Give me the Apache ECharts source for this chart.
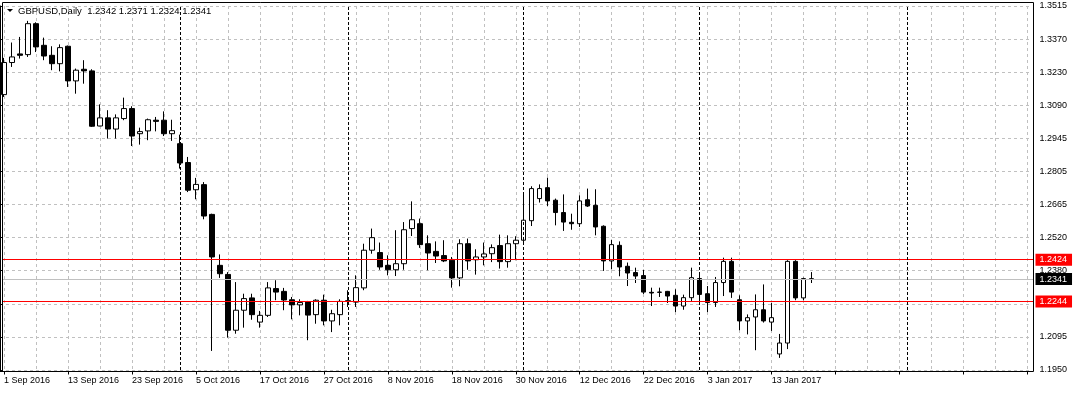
<!DOCTYPE html>
<html>
<head>
<meta charset="utf-8">
<script src="https://cdn.jsdelivr.net/npm/echarts@6/dist/echarts.min.js"></script>
<style>
html,body{margin:0;padding:0;background:#fff;}
#chart{width:1074px;height:393px;}
</style>
</head>
<body>
<div id="chart"></div>
<script>
// ---- data ----
const dates = [
 '1 Sep 2016','2 Sep 2016','5 Sep 2016','6 Sep 2016','7 Sep 2016','8 Sep 2016','9 Sep 2016','12 Sep 2016','13 Sep 2016','14 Sep 2016','15 Sep 2016','16 Sep 2016','19 Sep 2016','20 Sep 2016','21 Sep 2016','22 Sep 2016','23 Sep 2016','26 Sep 2016','27 Sep 2016','28 Sep 2016','29 Sep 2016','30 Sep 2016',
 '3 Oct 2016','4 Oct 2016','5 Oct 2016','6 Oct 2016','7 Oct 2016','10 Oct 2016','11 Oct 2016','12 Oct 2016','13 Oct 2016','14 Oct 2016','17 Oct 2016','18 Oct 2016','19 Oct 2016','20 Oct 2016','21 Oct 2016','24 Oct 2016','25 Oct 2016','26 Oct 2016','27 Oct 2016','28 Oct 2016','31 Oct 2016',
 '1 Nov 2016','2 Nov 2016','3 Nov 2016','4 Nov 2016','7 Nov 2016','8 Nov 2016','9 Nov 2016','10 Nov 2016','11 Nov 2016','14 Nov 2016','15 Nov 2016','16 Nov 2016','17 Nov 2016','18 Nov 2016','21 Nov 2016','22 Nov 2016','23 Nov 2016','24 Nov 2016','25 Nov 2016','28 Nov 2016','29 Nov 2016','30 Nov 2016',
 '1 Dec 2016','2 Dec 2016','5 Dec 2016','6 Dec 2016','7 Dec 2016','8 Dec 2016','9 Dec 2016','12 Dec 2016','13 Dec 2016','14 Dec 2016','15 Dec 2016','16 Dec 2016','19 Dec 2016','20 Dec 2016','21 Dec 2016','22 Dec 2016','23 Dec 2016','26 Dec 2016','27 Dec 2016','28 Dec 2016','29 Dec 2016','30 Dec 2016',
 '2 Jan 2017','3 Jan 2017','4 Jan 2017','5 Jan 2017','6 Jan 2017','9 Jan 2017','10 Jan 2017','11 Jan 2017','12 Jan 2017','13 Jan 2017','16 Jan 2017','17 Jan 2017','18 Jan 2017','19 Jan 2017','20 Jan 2017'
];
const open = [
 1.3134,1.3272,1.3309,1.3306,1.3439,1.3346,1.3303,1.3267,1.3342,1.3193,1.3243,1.3236,1.2999,1.3034,1.2986,1.3031,1.3074,1.2966,1.2978,1.3024,1.3024,1.2966,
 1.2923,1.2842,1.2725,1.2747,1.2619,1.2400,1.2361,1.2121,1.2207,1.2260,1.2156,1.2185,1.2300,1.2288,1.2252,1.2230,1.2242,1.2188,1.2250,1.2161,1.2188,
 1.2248,1.2242,1.2303,1.2465,1.2455,1.2400,1.2381,1.2407,1.2558,1.2579,1.2493,1.2460,1.2442,1.2422,1.2346,1.2493,1.2424,1.2436,1.2450,1.2485,1.2416,1.2493,
 1.2508,1.2592,1.2687,1.2734,1.2680,1.2627,1.2585,1.2579,1.2682,1.2658,1.2568,1.2419,1.2486,1.2396,1.2369,1.2356,1.2284,1.2285,1.2288,1.2271,1.2225,1.2261,
 1.2343,1.2278,1.2240,1.2326,1.2417,1.2252,1.2161,1.2178,1.2209,1.2156,1.2019,1.2066,1.2417,1.2260,1.2342
];
const high = [
 1.3292,1.3358,1.3382,1.3451,1.3445,1.3379,1.3342,1.3350,1.3345,1.3246,1.3282,1.3243,1.3092,1.3067,1.3049,1.3121,1.3084,1.2992,1.3031,1.3038,1.3062,1.3026,
 1.2962,1.2866,1.2776,1.2758,1.2622,1.2447,1.2371,1.2328,1.2278,1.2278,1.2204,1.2328,1.2336,1.2303,1.2264,1.2254,1.2247,1.2254,1.2274,1.2209,1.2254,
 1.2293,1.2357,1.2493,1.2558,1.2498,1.2443,1.2551,1.2586,1.2675,1.2601,1.2529,1.2503,1.2508,1.2436,1.2512,1.2515,1.2469,1.2498,1.2490,1.2532,1.2529,1.2525,
 1.2705,1.2740,1.2748,1.2777,1.2687,1.2705,1.2622,1.2701,1.2730,1.2727,1.2572,1.2510,1.2503,1.2412,1.2390,1.2381,1.2304,1.2304,1.2290,1.2297,1.2274,1.2390,
 1.2369,1.2311,1.2350,1.2433,1.2433,1.2271,1.2189,1.2275,1.2318,1.2238,1.2105,1.2422,1.2422,1.2347,1.2371
];
const low = [
 1.3124,1.3253,1.3289,1.3296,1.3317,1.3282,1.3239,1.3234,1.3167,1.3138,1.3181,1.2995,1.2998,1.2945,1.2945,1.3024,1.2913,1.2919,1.2938,1.2976,1.2956,1.2935,
 1.2816,1.2715,1.2684,1.2598,1.2032,1.2346,1.2089,1.2106,1.2132,1.2166,1.2132,1.2178,1.2250,1.2207,1.2168,1.2185,1.2078,1.2149,1.2142,1.2113,1.2142,
 1.2221,1.2221,1.2293,1.2450,1.2381,1.2357,1.2354,1.2381,1.2526,1.2475,1.2379,1.2410,1.2414,1.2304,1.2310,1.2381,1.2360,1.2400,1.2414,1.2386,1.2390,1.2422,
 1.2500,1.2569,1.2670,1.2655,1.2572,1.2548,1.2553,1.2565,1.2651,1.2529,1.2376,1.2383,1.2353,1.2311,1.2324,1.2277,1.2225,1.2264,1.2238,1.2199,1.2209,1.2247,
 1.2235,1.2199,1.2221,1.2268,1.2260,1.2121,1.2103,1.2035,1.2154,1.2118,1.2002,1.2040,1.2250,1.2250,1.2324
];
const close = [
 1.3272,1.3296,1.3303,1.3439,1.3339,1.3300,1.3267,1.3336,1.3193,1.3239,1.3236,1.2998,1.3034,1.2986,1.3034,1.3074,1.2956,1.2975,1.3026,1.3019,1.2966,1.2979,
 1.2840,1.2723,1.2748,1.2612,1.2436,1.2364,1.2121,1.2207,1.2257,1.2188,1.2185,1.2303,1.2285,1.2251,1.2230,1.2240,1.2186,1.2250,1.2161,1.2192,1.2245,
 1.2245,1.2304,1.2465,1.2519,1.2393,1.2381,1.2407,1.2553,1.2596,1.2489,1.2453,1.2440,1.2419,1.2346,1.2493,1.2419,1.2436,1.2449,1.2476,1.2416,1.2493,1.2508,
 1.2594,1.2730,1.2730,1.2677,1.2627,1.2586,1.2579,1.2677,1.2655,1.2565,1.2419,1.2489,1.2393,1.2367,1.2354,1.2285,1.2281,1.2284,1.2268,1.2225,1.2261,1.2347,
 1.2275,1.2240,1.2326,1.2417,1.2285,1.2161,1.2175,1.2209,1.2161,1.2175,1.2066,1.2417,1.2260,1.2343,1.2341
];
const yTickLabels = ['1.1950','1.2095','1.2235','1.2380','1.2520','1.2665','1.2805','1.2945','1.3090','1.3230','1.3370','1.3515'];
const yMin = 1.1950, yMax = 1.3515;
const levelLines = [1.2424, 1.2244];
const separatorIdx = [22, 43, 65, 87, 113];
const futureSlots = 27;
const symbolName = 'GBPUSD,Daily';

// ---- build ----
const cats = dates.concat(Array.from({length: futureSlots}, (_, k) => 'future-' + k));
const ohlc = dates.map((d, i) => [open[i], close[i], low[i], high[i]]);
const last = dates.length - 1;
const step = (yMax - yMin) / (yTickLabels.length - 1);
const FONT = 'Liberation Sans';

const levels = [
  {value: close[last], line: '#c0c0c0', box: '#000000'},
  {value: levelLines[0], line: '#ff0000', box: '#ff0000'},
  {value: levelLines[1], line: '#ff0000', box: '#ff0000'}
];

function levelSeries(lv) {
  return {
    type: 'line', xAxisIndex: 1, yAxisIndex: 0, z: 5, silent: true,
    symbol: 'none', animation: false,
    data: [[0, lv.value], [1, lv.value]],
    lineStyle: {color: lv.line, width: 1, opacity: 0},
    endLabel: {show: true, distance: 4, formatter: lv.value.toFixed(4), color: '#fff',
      backgroundColor: lv.box, padding: [2, 5, 1, 4], fontFamily: FONT, fontSize: 9}
  };
}

const sepData = separatorIdx.map(ix => ({
  xAxis: ix,
  lineStyle: {color: '#000', width: 1, type: [3, 2]},
  label: {show: false}
}));

const baseGraphic = [
  {id: 'frame', type: 'rect', shape: {x: 2.5, y: 2.5, width: 1031, height: 369}, style: {fill: 'none', stroke: '#000', lineWidth: 1}, z: 100, silent: true},
  {id: 'tri', type: 'polygon', shape: {points: [[7, 9], [13, 9], [10, 12]]}, style: {fill: '#000'}, z: 100},
  {id: 'hdr', type: 'text', x: 18, y: 6, z: 100, style: {
    text: symbolName + '  ' + open[last].toFixed(4) + ' ' + high[last].toFixed(4) + ' ' + low[last].toFixed(4) + ' ' + close[last].toFixed(4),
    fill: '#000', font: '9.5px "Liberation Sans"'}}
];

const chart = echarts.init(document.getElementById('chart'), null, {renderer: 'canvas'});
chart.setOption({
  animation: false,
  backgroundColor: '#fff',
  grid: {left: -0.5, right: 42.5, top: 6, bottom: 23},
  xAxis: [{
    type: 'category', data: cats, boundaryGap: true, offset: 1.5,
    axisLine: {show: true, lineStyle: {color: '#000', width: 1}},
    axisTick: {show: true, interval: 7, alignWithLabel: true, length: 3, lineStyle: {color: '#000'}},
    axisLabel: {interval: 7, align: 'left', margin: 5, color: '#000', fontFamily: FONT, fontSize: 9,
      formatter: (v, i) => (i < dates.length ? v : '')},
    splitLine: {show: true, interval: 3, alignWithLabel: true, lineStyle: {color: '#c0c0c0', type: [3, 3], width: 1}}
  }, {
    type: 'value', min: 0, max: 1, show: false
  }],
  yAxis: {
    type: 'value', position: 'right', min: yMin, max: yMax, interval: step, offset: 2,
    axisLine: {show: true, lineStyle: {color: '#000', width: 1}},
    axisTick: {show: true, length: 3, lineStyle: {color: '#000'}},
    axisLabel: {margin: 6, color: '#000', fontFamily: FONT, fontSize: 9,
      formatter: v => yTickLabels[Math.round((v - yMin) / step)] || ''},
    splitLine: {show: true, lineStyle: {color: '#c0c0c0', type: [3, 3], width: 1}}
  },
  series: [{
    type: 'candlestick',
    data: ohlc,
    barWidth: 5,
    z: 3,
    itemStyle: {color: '#fff', color0: '#000', borderColor: '#000', borderColor0: '#000', borderColorDoji: '#000', borderWidth: 1},
    markLine: {silent: true, symbol: ['none', 'none'], animation: false, data: sepData}
  }].concat(levels.map(levelSeries)),
  graphic: baseGraphic
});

// crisp 1px horizontal level lines, positioned through the chart's own y scale
const levelGraphic = levels.map((lv, k) => {
  const top = Math.floor(chart.convertToPixel({yAxisIndex: 0}, lv.value));
  return {id: 'lvl' + k, type: 'rect', z: 4, silent: true,
    shape: {x: 2, y: top, width: 1032, height: 1},
    style: {fill: lv.line, stroke: null, lineWidth: 0}};
});
chart.setOption({graphic: baseGraphic.concat(levelGraphic)});
</script>
</body>
</html>
